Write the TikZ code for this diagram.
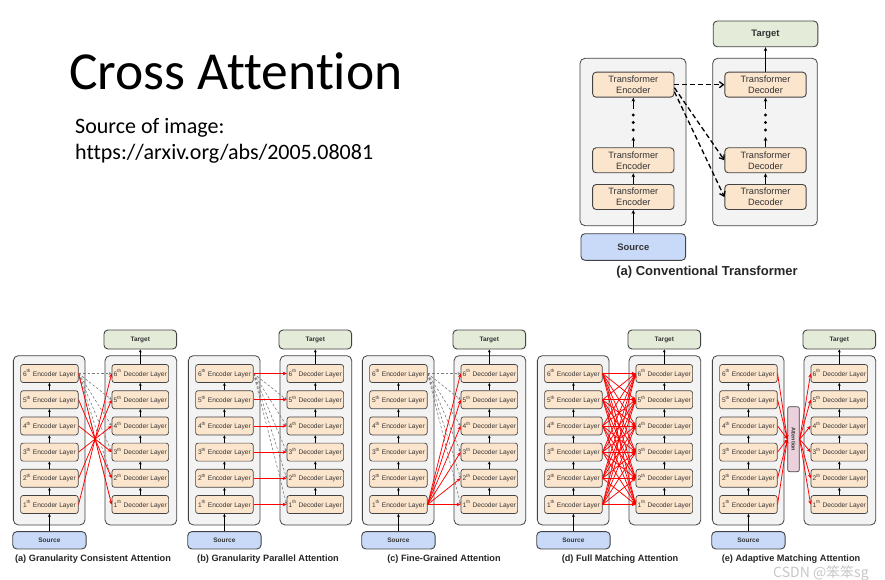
\documentclass[tikz,border=0pt]{standalone}
\usepackage{fontspec}
\setmainfont{Liberation Sans}
\newfontfamily\titlefont[Ligatures=NoCommon]{Carlito}
\newfontfamily\cjkfont{Noto Sans CJK SC}
\usetikzlibrary{arrows.meta}
\definecolor{contfill}{HTML}{F3F3F3}
\definecolor{edgecol}{HTML}{434343}
\definecolor{layerfill}{HTML}{FCE5CD}
\definecolor{srcfill}{HTML}{C9DAF8}
\definecolor{tgtfill}{HTML}{E4EBD9}
\definecolor{attnfill}{HTML}{EAD1DC}
\definecolor{dashgray}{HTML}{7A7A7A}
\definecolor{redline}{HTML}{FF0000}
\definecolor{txtgray}{HTML}{333333}
\begin{document}
\begin{tikzpicture}[x=1pt,y=-1pt,
  container/.style={draw=edgecol, fill=contfill, rounded corners=5pt, line width=0.8pt, inner sep=0pt},
  layer/.style={draw=edgecol, fill=layerfill, rounded corners=2.5pt, line width=0.7pt, minimum width=57.6pt, minimum height=18pt, inner sep=0pt, font=\fontsize{6.6}{7}\selectfont, text=txtgray},
  tbox/.style={draw=edgecol, fill=layerfill, rounded corners=3.5pt, line width=0.9pt, minimum width=81.3pt, minimum height=25pt, inner sep=0pt, align=center, font=\fontsize{9.2}{11}\selectfont, text=txtgray},
  tgtbox/.style={draw=edgecol, fill=tgtfill, rounded corners=4pt, line width=0.9pt, inner sep=0pt, font=\bfseries, text=txtgray},
  srcbox/.style={draw=edgecol, fill=srcfill, rounded corners=4pt, line width=0.9pt, inner sep=0pt, font=\bfseries, text=txtgray},
  attnbox/.style={draw=edgecol, fill=attnfill, rounded corners=2pt, line width=0.7pt, inner sep=0pt, minimum width=65pt, minimum height=11.6pt, rotate=-90, font=\bfseries\fontsize{5.5}{6}\selectfont, text=txtgray},
  capt/.style={font=\bfseries\fontsize{9.2}{11}\selectfont, text=black!85},
  blk/.style={draw=black, line width=0.6pt, -{Stealth[length=3pt,width=2.8pt]}},
  tblk/.style={draw=black, line width=0.9pt, -{Stealth[length=4pt,width=3.5pt]}},
  tdash/.style={draw=black, line width=1.3pt, dash pattern=on 5pt off 3pt, -{Straight Barb[length=4pt,width=6pt]}},
  gdash/.style={draw=dashgray, line width=0.6pt, dash pattern=on 2.5pt off 2pt, -{Stealth[length=3pt,width=2.8pt]}},
  redarr/.style={draw=redline, line width=0.75pt, -{Stealth[length=4pt,width=3.5pt]}}
]
\useasboundingbox (0,0) rectangle (885,580);
\fill[white] (0,0) rectangle (885,580);

% ---------- title ----------
\node[anchor=base west, inner sep=0pt, font=\titlefont\fontsize{53.5}{60}\selectfont] (title) at (69,90) {Cross Attention};
\node[anchor=base west, inner sep=0pt, font=\titlefont\fontsize{22}{25}\selectfont] (srcline1) at (75,134) {Source of image:};
\node[anchor=base west, inner sep=0pt, font=\titlefont\fontsize{22}{25}\selectfont] (srcline2) at (75,159.3) {https://arxiv.org/abs/2005.08081};

% ---------- conventional transformer ----------
\node[container, minimum width=106pt, minimum height=167.4pt] (tencbox) at (633,142) {};
\node[container, minimum width=104.6pt, minimum height=167.4pt] (tdecbox) at (765,142) {};
\node[tbox] (te3) at (633.3,84.7) {Transformer\\Encoder};
\node[tbox] (te2) at (633.3,160.3) {Transformer\\Encoder};
\node[tbox] (te1) at (633.3,197) {Transformer\\Encoder};
\node[tbox] (td3) at (765.5,84.7) {Transformer\\Decoder};
\node[tbox] (td2) at (765.5,160.3) {Transformer\\Decoder};
\node[tbox] (td1) at (765.5,197) {Transformer\\Decoder};
\node[tgtbox, minimum width=104.6pt, minimum height=25.7pt, font=\bfseries\fontsize{9.4}{11}\selectfont] (ttgt) at (765.5,33.9) {Target};
\node[srcbox, minimum width=104.7pt, minimum height=26.6pt, font=\bfseries\fontsize{9.4}{11}\selectfont] (tsrc) at (633.3,247) {Source};
\node[font=\bfseries\fontsize{13}{15}\selectfont, text=black!85] (tcap) at (707,272) {(a) Conventional Transformer};

\coordinate (eDotHi) at (633.3,109);
\coordinate (eDotLo) at (633.3,137);
\coordinate (dDotHi) at (765.5,109);
\coordinate (dDotLo) at (765.5,137);
\foreach \yy in {115,122.5,130}{
  \fill (633.3,\yy) circle (1.6pt);
  \fill (765.5,\yy) circle (1.6pt);
}
\draw[tblk] (tsrc) -- (te1);
\draw[tblk] (te1) -- (te2);
\draw[tblk] (te2) -- (eDotLo);
\draw[tblk] (eDotHi) -- (te3);
\draw[tblk] (td1) -- (td2);
\draw[tblk] (td2) -- (dDotLo);
\draw[tblk] (dDotHi) -- (td3);
\draw[tblk] (td3) -- (ttgt);
\draw[tdash] (te3.east) -- (td3.west);
\draw[tdash] ([yshift=-3pt]te3.east) -- (td2.west);
\draw[tdash] ([yshift=-7pt]te3.east) -- (td1.west);

% ---------- five panels ----------
\foreach \p/\o/\cx/\cap in {a/0/93/{(a) Granularity Consistent Attention},
                            b/175/93/{(b) Granularity Parallel Attention},
                            c/349/95/{(c) Fine-Grained Attention},
                            d/524/96/{(d) Full Matching Attention},
                            e/699/92/{(e) Adaptive Matching Attention}}{
  \begin{scope}[xshift=\o pt]
    \node[container, minimum width=71.7pt, minimum height=169.3pt] (\p encbox) at (49.2,440.3) {};
    \node[container, minimum width=71.7pt, minimum height=169.3pt] (\p decbox) at (140.9,440.3) {};
    \foreach \i in {1,...,6}{
      \node[layer] (\p e\i) at (49.4,{504.5-26.2*(\i-1)}) {\i\textsuperscript{th} Encoder Layer};
      \node[layer, minimum width=56.6pt] (\p d\i) at (140.3,{504.5-26.2*(\i-1)}) {\i\textsuperscript{th} Decoder Layer};
    }
    \node[tgtbox, minimum width=72.7pt, minimum height=19pt, font=\bfseries\fontsize{6.5}{7}\selectfont] (\p tgt) at (140.3,339.5) {Target};
    \node[srcbox, minimum width=73.3pt, minimum height=17.3pt, font=\bfseries\fontsize{6.5}{7}\selectfont] (\p src) at (49.4,540.3) {Source};
    \node[capt] (\p cap) at (\cx,559.5) {\cap};
  \end{scope}
}
\node[attnbox] (eattn) at (793.5,439.2) {Attention};

% vertical flow arrows
\foreach \p in {a,b,c,d,e}{
  \draw[blk] (\p src) -- (\p e1);
  \draw[blk] (\p d6) -- (\p tgt);
  \foreach \i [evaluate=\i as \j using int(\i+1)] in {1,...,5}{
    \draw[blk] (\p e\i) -- (\p e\j);
    \draw[blk] (\p d\i) -- (\p d\j);
  }
}

% gray dashed (last encoder layer to every decoder layer)
\foreach \p in {a,b,c}{
  \foreach \j in {1,...,6}{
    \draw[gdash] (\p e6.east) -- (\p d\j.west);
  }
}

% (a) granularity consistent
\foreach \i [evaluate=\i as \j using int(7-\i)] in {1,...,6}{
  \draw[redarr] (ae\i.east) -- (ad\j.west);
}
% (b) granularity parallel
\foreach \i in {1,...,6}{
  \draw[redarr] (be\i.east) -- (bd\i.west);
}
% (c) fine-grained
\foreach \j in {1,...,6}{
  \draw[redarr] (ce1.east) -- (cd\j.west);
}
% (d) full matching
\foreach \i in {1,...,6}{
  \foreach \j in {1,...,6}{
    \draw[redarr] (de\i.east) -- (dd\j.west);
  }
}
% (e) adaptive matching (rotated node: south = left side, north = right side)
\foreach \i in {1,...,6}{
  \draw[redarr] (ee\i.east) -- (eattn.south);
  \draw[redarr] (eattn.north) -- (ed\i.west);
}

% watermark
\node[anchor=west, inner sep=0pt, font=\cjkfont\fontsize{14}{14}\selectfont, text=black!22] (wm) at (773,573) {CSDN @笨笨sg};
\end{tikzpicture}
\end{document}
